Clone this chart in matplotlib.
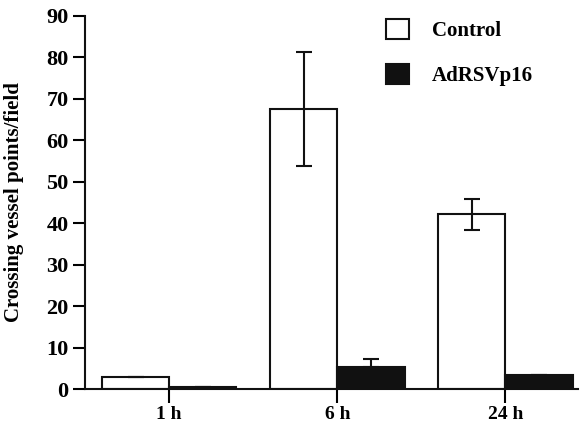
import numpy as np
import matplotlib.pyplot as plt
from matplotlib.patches import Patch

plt.rcParams['font.family'] = ['Liberation Serif', 'DejaVu Serif']
plt.rcParams['font.weight'] = 'bold'

times = ['1 h', '6 h', '24 h']
control = [3.0, 67.5, 42.2]
control_err_lo = [0, 13.8, 3.9]
control_err_hi = [0, 13.8, 3.7]
adrsv = [0.6, 5.4, 3.4]
adrsv_err_lo = [0, 0, 0]
adrsv_err_hi = [0, 1.8, 0]

x = np.arange(1, len(times) + 1)
w = 0.4

fig = plt.figure(figsize=(5.83, 4.28), dpi=100)
ax = fig.add_axes([0.146, 0.091, 0.845, 0.872])

ax.bar(x - w / 2, control, w, color='white', edgecolor='#111111', linewidth=1.5, zorder=2)
ax.bar(x + w / 2, adrsv, w, color='#111111', edgecolor='#111111', linewidth=1.5, zorder=2)
ax.errorbar(x - w / 2, control, yerr=[control_err_lo, control_err_hi], fmt='none',
            ecolor='#111111', elinewidth=1.5, capsize=6, capthick=1.5, zorder=3)
ax.errorbar(x + w / 2, adrsv, yerr=[adrsv_err_lo, adrsv_err_hi], fmt='none',
            ecolor='#111111', elinewidth=1.5, capsize=6, capthick=1.5, zorder=3)

ax.set_xlim(0.5, 3.43)
ax.set_ylim(0, 90)
ax.set_yticks(np.arange(0, 91, 10))
ax.set_xticks(x)
ax.set_xticklabels(times)
ax.tick_params(axis='y', direction='out', length=9, width=1.5, labelsize=16, pad=3)
ax.tick_params(axis='x', direction='out', length=10, width=1.5, labelsize=14, pad=2)
for s in ['top', 'right']:
    ax.spines[s].set_visible(False)
for s in ['left', 'bottom']:
    ax.spines[s].set_linewidth(1.5)
    ax.spines[s].set_color('#111111')

ax.set_ylabel('Crossing vessel points/field', fontsize=15, fontweight='bold', labelpad=16)

handles = [Patch(facecolor='white', edgecolor='#111111', linewidth=1.5, label='Control'),
           Patch(facecolor='#111111', edgecolor='#111111', linewidth=1.5, label='AdRSVp16')]
fig.legend(handles=handles, loc='upper left', bbox_to_anchor=(386 / 583, 1 - 19 / 428),
           frameon=False, fontsize=15, handlelength=1.1, handleheight=1.1,
           labelspacing=1.1, handletextpad=1.1, borderpad=0, borderaxespad=0)

fig.savefig('out.png', dpi=100)
